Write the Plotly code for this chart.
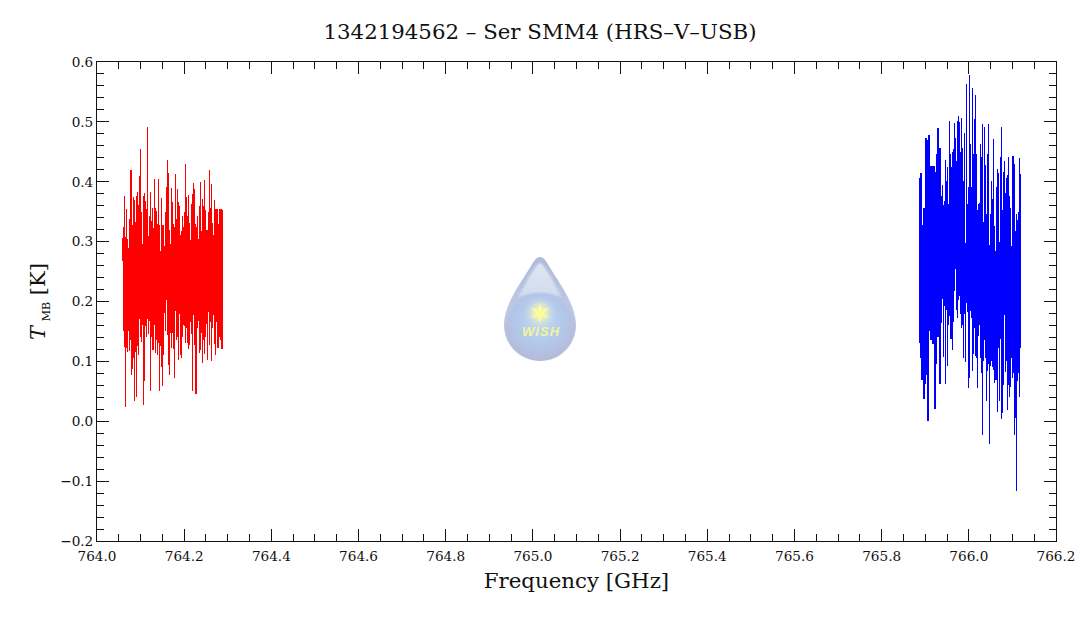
import plotly.graph_objects as go
import numpy as np
import base64

title = "1342194562 – Ser SMM4 (HRS–V–USB)"
x_label = "Frequency [GHz]"
y_label = '<i>T</i><sub> <span style="font-size:11px">MB</span></sub> [K]'
logo_label = "W\u200aI\u200aS\u200aH"

x_tick_values = [764.0, 764.2, 764.4, 764.6, 764.8, 765.0, 765.2, 765.4, 765.6, 765.8, 766.0, 766.2]
y_tick_values = [-0.2, -0.1, 0.0, 0.1, 0.2, 0.3, 0.4, 0.5, 0.6]
y_tick_text = ["−0.2", "−0.1", "0.0", "0.1", "0.2", "0.3", "0.4", "0.5", "0.6"]

red_first_ghz, red_last_ghz = 764.059, 764.287
blue_first_ghz, blue_last_ghz = 765.888, 766.119

red_high = [0.306,0.325,0.376,0.308,0.355,0.304,0.289,0.338,0.42,0.42,0.327,0.374,0.37,0.332,0.376,0.383,0.361,0.41,0.455,0.35,
            0.296,0.376,0.381,0.368,0.355,0.492,0.31,0.343,0.383,0.335,0.357,0.323,0.405,0.356,0.351,0.33,0.405,0.328,0.284,0.373,
            0.327,0.328,0.293,0.35,0.391,0.436,0.415,0.32,0.296,0.39,0.367,0.33,0.325,0.413,0.338,0.388,0.367,0.36,0.311,0.317,
            0.342,0.324,0.35,0.43,0.374,0.343,0.378,0.331,0.303,0.363,0.38,0.398,0.388,0.33,0.325,0.343,0.304,0.36,0.4,0.318,
            0.371,0.36,0.403,0.353,0.32,0.32,0.35,0.42,0.357,0.396,0.331,0.311,0.37,0.354,0.304,0.355,0.33,0.311,0.355,0.355,0.353]
red_low = [0.267,0.15,0.124,0.024,0.122,0.115,0.15,0.118,0.135,0.077,0.088,0.105,0.034,0.116,0.04,0.126,0.11,0.17,0.141,0.133,
           0.16,0.027,0.068,0.159,0.14,0.17,0.146,0.168,0.051,0.141,0.119,0.119,0.161,0.114,0.136,0.11,0.13,0.051,0.126,0.09,
           0.059,0.11,0.18,0.15,0.203,0.144,0.094,0.077,0.147,0.122,0.147,0.121,0.073,0.184,0.136,0.14,0.102,0.179,0.11,0.105,
           0.14,0.161,0.159,0.131,0.155,0.13,0.12,0.128,0.165,0.145,0.051,0.178,0.127,0.046,0.046,0.155,0.167,0.114,0.119,0.148,
           0.098,0.136,0.113,0.14,0.163,0.102,0.182,0.128,0.165,0.101,0.155,0.177,0.129,0.111,0.165,0.18,0.122,0.177,0.141,0.135,0.12]

blue_high = [0.406,0.414,0.281,0.328,0.356,0.337,0.473,0.47,0.414,0.478,0.316,0.426,0.426,0.367,0.426,0.387,0.417,0.446,0.489,0.402,
             0.456,0.376,0.395,0.361,0.368,0.437,0.402,0.425,0.363,0.501,0.446,0.425,0.449,0.454,0.498,0.473,0.435,0.501,0.51,0.5,
             0.449,0.506,0.456,0.402,0.481,0.297,0.563,0.363,0.392,0.578,0.463,0.391,0.556,0.446,0.504,0.545,0.447,0.353,0.363,0.365,
             0.463,0.442,0.496,0.333,0.491,0.428,0.346,0.447,0.496,0.294,0.346,0.401,0.372,0.471,0.326,0.285,0.392,0.421,0.414,0.3,
             0.441,0.491,0.352,0.417,0.435,0.381,0.406,0.411,0.442,0.376,0.356,0.293,0.443,0.443,0.43,0.318,0.346,0.336,0.35,0.439,0.413]
blue_low = [0.13,0.105,0.069,0.12,0.038,0.063,0.077,0.115,0.001,0.16,0.151,0.136,0.187,0.129,0.186,0.02,0.095,0.167,0.14,0.14,
            0.063,0.164,0.204,0.108,0.192,0.063,0.186,0.093,0.161,0.175,0.138,0.138,0.119,0.166,0.217,0.255,0.185,0.172,0.203,0.209,
            0.179,0.156,0.16,0.105,0.179,0.099,0.197,0.183,0.056,0.072,0.184,0.172,0.084,0.112,0.155,0.109,0.105,0.055,0.142,0.161,
            0.106,0.08,-0.023,0.101,0.136,0.106,0.033,0.084,0.095,-0.038,0.092,0.1,0.09,0.085,0.064,0.069,0.069,0.016,0.122,0.033,
            0.138,0.003,0.013,0.06,0.177,0.083,0.1,0.018,0.06,0.041,0.057,0.105,0.073,0.081,-0.023,0.005,-0.116,0.068,0.081,0.04,0.123]


def spikes(first, last, highs, lows):
    grid = np.linspace(first, last, len(highs))
    xs, ys = [], []
    for f, h, l in zip(grid, highs, lows):
        xs += [float(f), float(f), None]
        ys += [h, l, None]
    return xs, ys


fig = go.Figure()
rx, ry = spikes(red_first_ghz, red_last_ghz, red_high, red_low)
bx, by = spikes(blue_first_ghz, blue_last_ghz, blue_high, blue_low)
fig.add_trace(go.Scatter(x=rx, y=ry, mode="lines", line=dict(color="#ff0000", width=1.3), showlegend=False, hoverinfo="skip"))
fig.add_trace(go.Scatter(x=bx, y=by, mode="lines", line=dict(color="#0000ff", width=1.3), showlegend=False, hoverinfo="skip"))

drop_svg = """<svg xmlns="http://www.w3.org/2000/svg" width="80" height="112" viewBox="0 0 80 112">
<defs>
<linearGradient id="a" x1="0" y1="0" x2="0" y2="1"><stop offset="0" stop-color="#b0bada"/><stop offset="0.5" stop-color="#bcc8e6"/><stop offset="1" stop-color="#b6b8d6"/></linearGradient>
<linearGradient id="h" x1="0" y1="0" x2="0" y2="1"><stop offset="0" stop-color="#dfe5f2"/><stop offset="1" stop-color="#d0dcee"/></linearGradient>
<radialGradient id="c" cx="0.5" cy="0.42" r="0.6"><stop offset="0" stop-color="#c0d8f4"/><stop offset="0.6" stop-color="#b2c8ea"/><stop offset="1" stop-color="#b6bada"/></radialGradient>
<radialGradient id="g" cx="0.5" cy="0.5" r="0.5"><stop offset="0" stop-color="#fdfdb0"/><stop offset="0.45" stop-color="#e8efc0" stop-opacity="0.75"/><stop offset="1" stop-color="#c0d8f0" stop-opacity="0"/></radialGradient>
<filter id="s"><feGaussianBlur stdDeviation="0.9"/></filter>
</defs>
<path d="M40 4 C44 4 46 8 49 13 C60 31 76 52 76 72 C76 92 60 108 40 108 C20 108 4 92 4 72 C4 52 20 31 31 13 C34 8 36 4 40 4 Z" fill="url(#a)"/>
<path d="M40 10 C45 12 52 26 62 45 C54 39 26 39 18 45 C28 26 35 12 40 10 Z" fill="url(#h)" filter="url(#s)"/>
<circle cx="40" cy="73" r="33" fill="url(#c)" filter="url(#s)"/>
<circle cx="40" cy="60" r="17" fill="url(#g)"/>
<path d="M40 50 L42 56.5 L48.7 55 L44 60 L48.7 65 L42 63.5 L40 70 L38 63.5 L31.3 65 L36 60 L31.3 55 L38 56.5 Z" fill="#fbfb9c"/>
</svg>"""
fig.add_layout_image(dict(
    source="data:image/svg+xml;base64," + base64.b64encode(drop_svg.encode()).decode(),
    xref="paper", yref="paper", x=(500 - 97) / 959, y=(541 - 253) / 479,
    sizex=80 / 959, sizey=112 / 479, xanchor="left", yanchor="top", sizing="stretch", layer="below",
))
fig.add_annotation(text=f"<b><i>{logo_label}</i></b>", xref="paper", yref="paper",
                   x=(540.5 - 97) / 959, y=(541 - 331.5) / 479, showarrow=False,
                   font=dict(family="Liberation Sans", size=13, color="#f4f49a"))

INK = "#111111"
axis_common = dict(
    showgrid=False, zeroline=False, showline=True, linecolor=INK, linewidth=1,
    mirror="allticks", ticks="inside", ticklen=12, tickwidth=1, tickcolor=INK,
    tickfont=dict(family="DejaVu Serif", size=13.6, color=INK),
)
fig.update_layout(
    width=1080, height=618, margin=dict(l=97, r=24, t=62, b=77, autoexpand=False),
    paper_bgcolor="white", plot_bgcolor="white",
    font=dict(family="DejaVu Serif", color=INK),
    title=dict(text=title, x=0.5, xanchor="center", y=1 - 32 / 618, yanchor="middle",
               font=dict(family="DejaVu Serif", size=21.3, color=INK)),
    xaxis=dict(range=[764.0, 766.2], tickvals=x_tick_values, ticktext=[f"{v:.1f}" for v in x_tick_values],
               minor=dict(dtick=0.05, ticks="inside", ticklen=7, tickwidth=1, tickcolor=INK),
               title=dict(text=x_label, font=dict(family="DejaVu Serif", size=21.3, color=INK), standoff=9),
               ticklabelstandoff=3,
               **axis_common),
    yaxis=dict(range=[-0.2, 0.6], tickvals=y_tick_values, ticktext=y_tick_text,
               minor=dict(dtick=0.02, ticks="inside", ticklen=7, tickwidth=1, tickcolor=INK),
               title=dict(text=y_label, font=dict(family="DejaVu Serif", size=21, color=INK), standoff=8),
               **axis_common),
)
crisp = "document.body.style.margin='0';document.querySelectorAll('.js-line').forEach(p=>p.style.shapeRendering='crispEdges');"
fig.write_html("out.html", config={"displayModeBar": False}, post_script=crisp)
